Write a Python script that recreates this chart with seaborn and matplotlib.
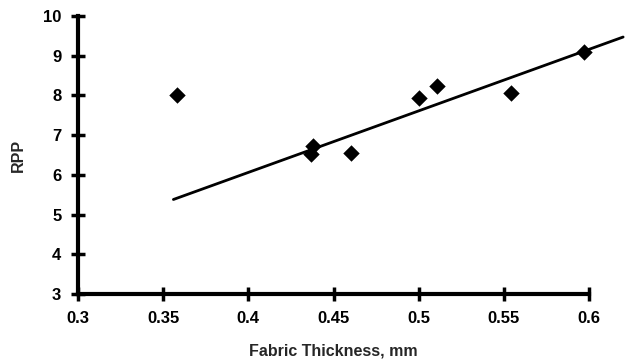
import matplotlib
matplotlib.use("Agg")
import matplotlib.pyplot as plt
import seaborn as sns
import pandas as pd

thickness = [0.358, 0.438, 0.437, 0.460, 0.500, 0.511, 0.554, 0.597]
rpp = [8.00, 6.73, 6.53, 6.55, 7.93, 8.23, 8.06, 9.10]
trend_x = [0.356, 0.62]
trend_y = [5.38, 9.47]
xticks = [0.3, 0.35, 0.4, 0.45, 0.5, 0.55, 0.6]
xticklabels = ["0.3", "0.35", "0.4", "0.45", "0.5", "0.55", "0.6"]
yticks = [3, 4, 5, 6, 7, 8, 9, 10]

sns.set_theme(style="white")
plt.rcParams['font.family'] = ['Liberation Sans', 'DejaVu Sans']
plt.rcParams['font.weight'] = 'bold'

df = pd.DataFrame({"x": thickness, "y": rpp})
fig = plt.figure(figsize=(6.26, 3.63), dpi=100)
ax = fig.add_axes([0.1246, 0.190, 0.8164, 0.766])

sns.lineplot(x=trend_x, y=trend_y, ax=ax, color="black", linewidth=2, clip_on=False)
sns.scatterplot(data=df, x="x", y="y", ax=ax, marker="D", s=70, color="black",
                edgecolor="black", linewidth=0, zorder=5, clip_on=False)

ax.set_xlim(0.3, 0.6)
ax.set_ylim(3, 10)
ax.set_xticks(xticks)
ax.set_xticklabels(xticklabels)
ax.set_yticks(yticks)
for s in ["top", "right"]:
    ax.spines[s].set_visible(False)
for s in ["left", "bottom"]:
    ax.spines[s].set_linewidth(3)
    ax.spines[s].set_color("black")
ax.tick_params(axis="both", which="major", bottom=True, left=True, direction="inout",
               length=10, width=2.5, colors="black", labelsize=12, pad=7)
for lab in ax.get_xticklabels() + ax.get_yticklabels():
    lab.set_fontweight("bold")
ax.set_xlabel("Fabric Thickness, mm", fontsize=11.5, fontweight="bold", labelpad=13)
ax.set_ylabel("RPP", fontsize=11.5, fontweight="bold", labelpad=12)

fig.savefig("out.png", dpi=100)
